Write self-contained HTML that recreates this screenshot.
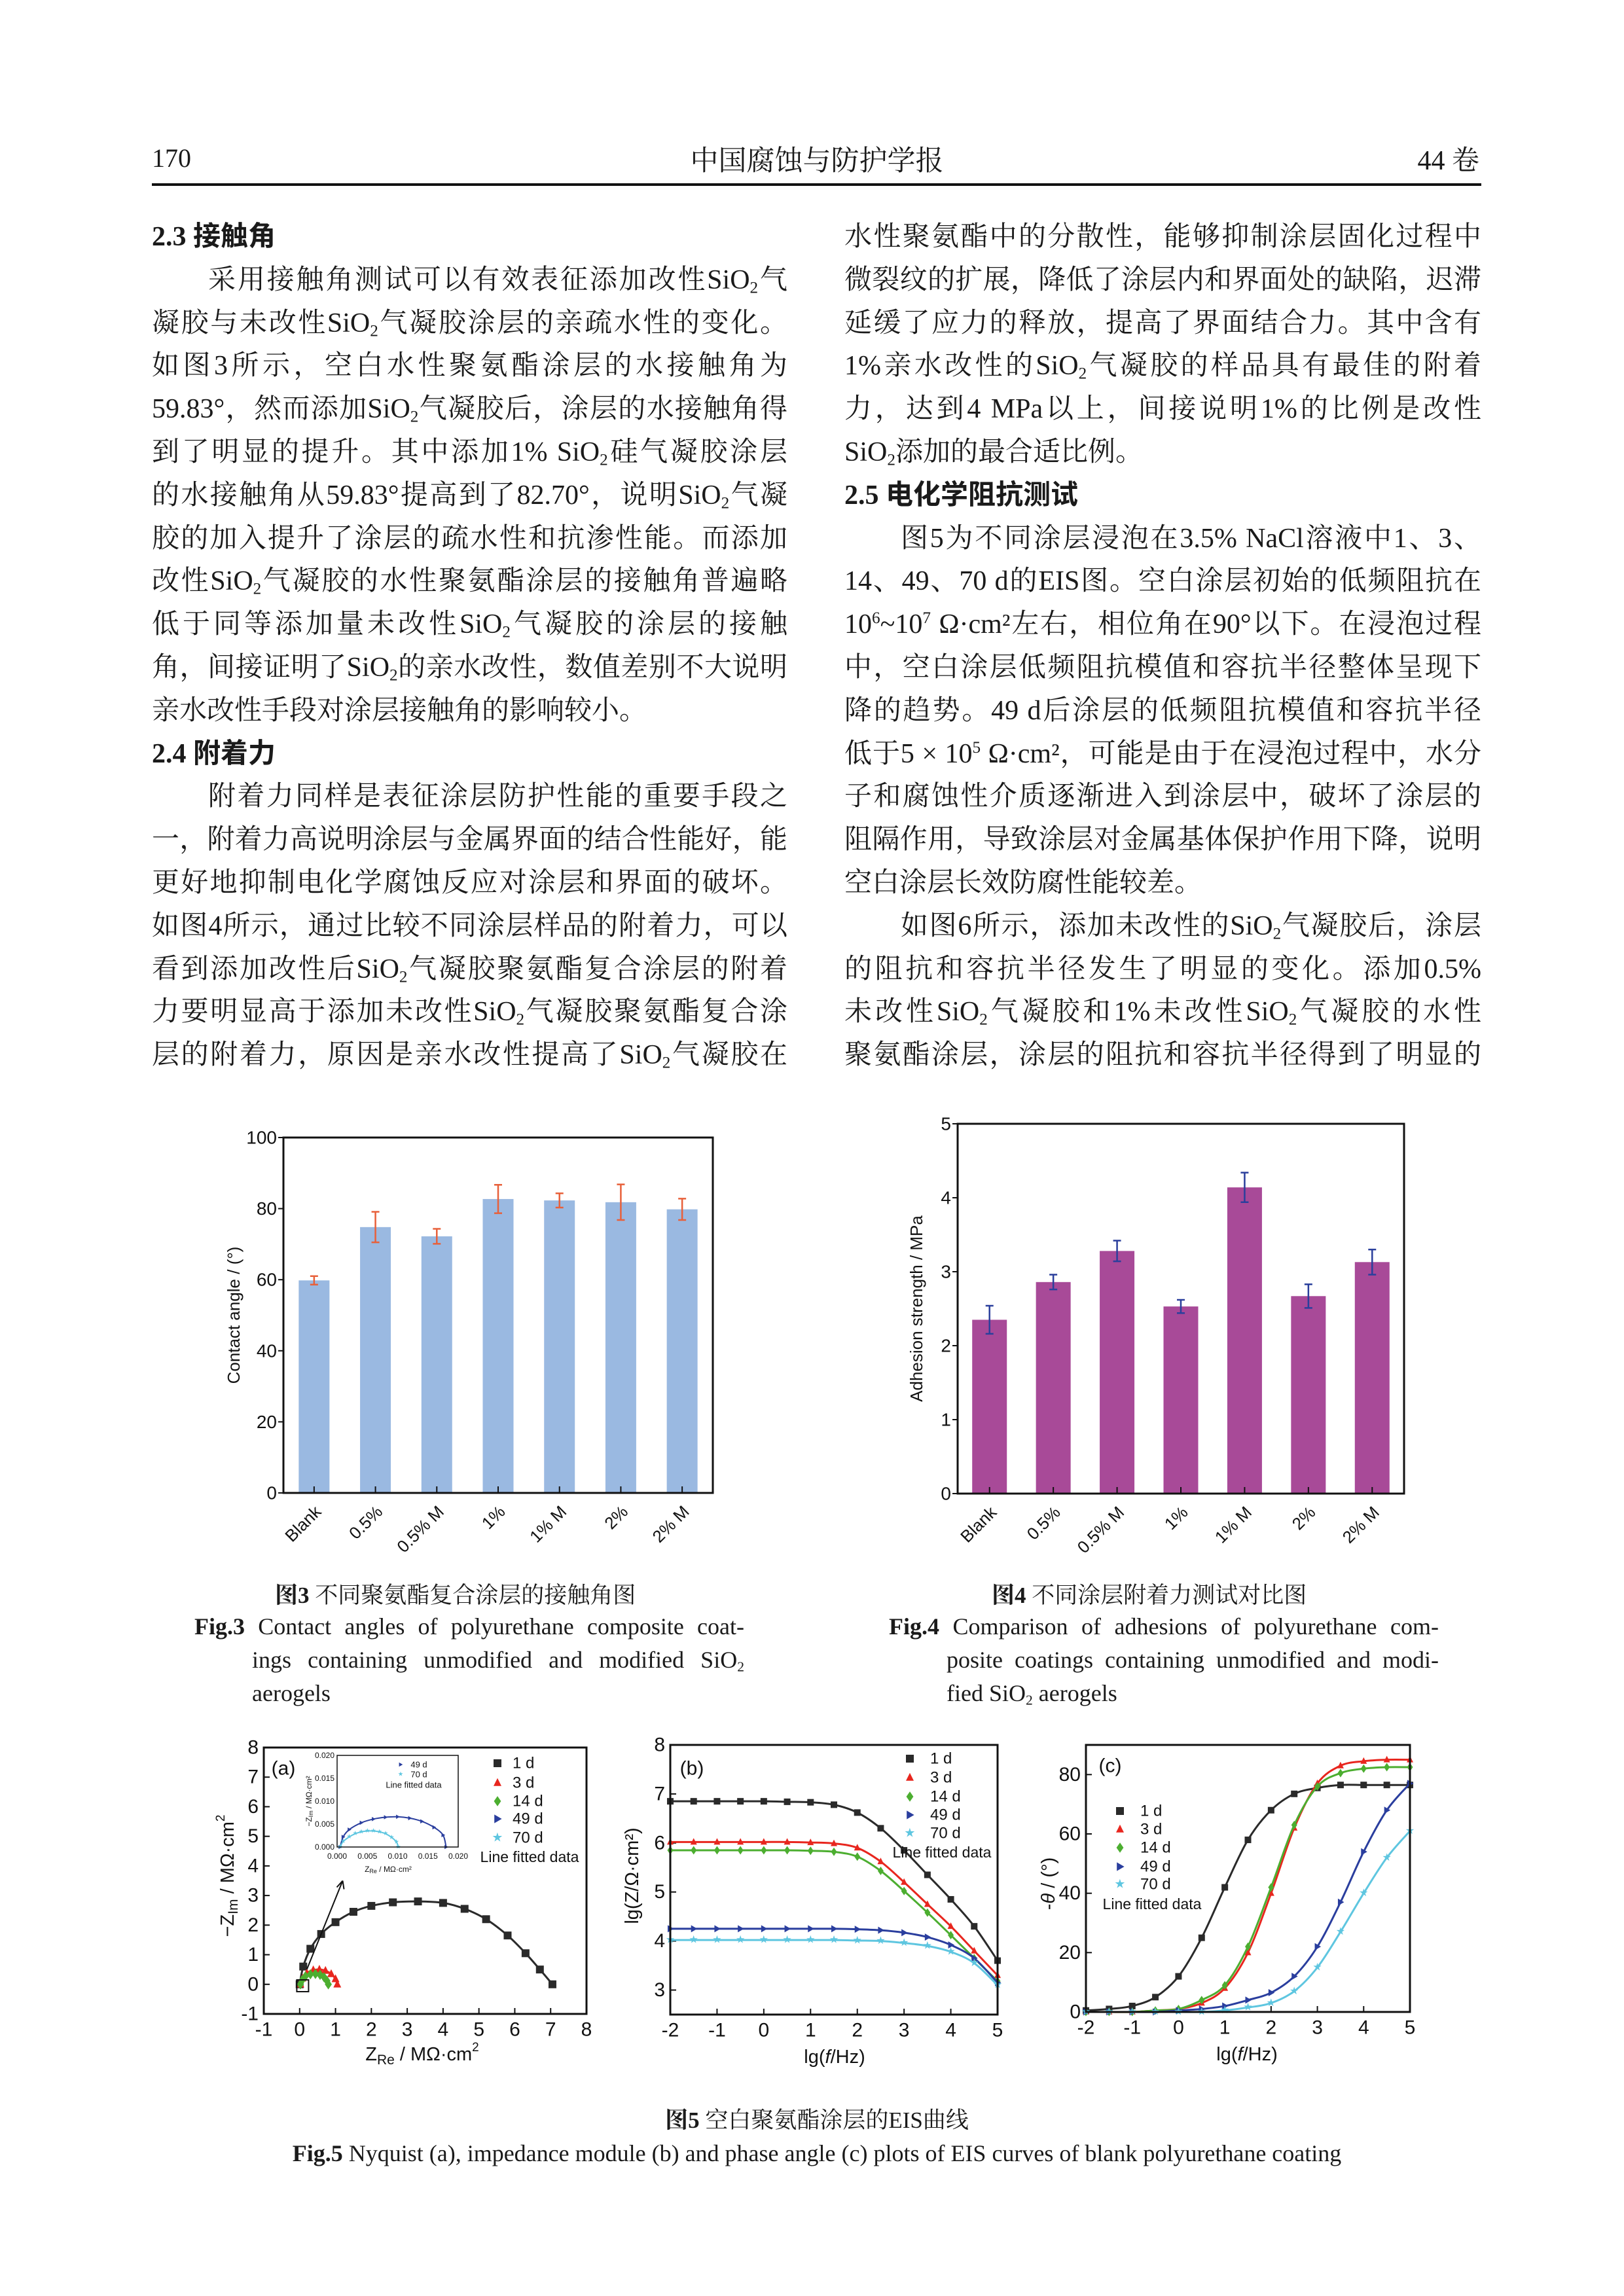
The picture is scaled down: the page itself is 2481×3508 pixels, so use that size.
<!DOCTYPE html>
<html><head><meta charset="utf-8">
<style>
html,body{margin:0;padding:0;background:#fff;}
#page{position:relative;width:2481px;height:3508px;overflow:hidden;background:#fff;font-family:"Liberation Serif","Noto Serif CJK SC",serif;color:#1a1a1a;}
.ln{position:absolute;height:66px;line-height:66px;font-size:42px;white-space:nowrap;text-align:justify;text-align-last:justify;}
.ln.s{text-align-last:left;}
.h{font-weight:bold;font-family:"Liberation Serif","Noto Sans CJK SC",sans-serif;}
sub{font-size:60%;vertical-align:-0.25em;line-height:0;}
sup{font-size:60%;vertical-align:0.6em;line-height:0;}
.cap{position:absolute;font-size:36px;line-height:51px;white-space:nowrap;}
svg text{font-family:"Liberation Sans",sans-serif;}
</style></head>
<body>
<div id="page">
<div style="position:absolute;left:232px;top:218px;font-size:40px;">170</div>
<div style="position:absolute;left:0;width:2496px;top:212px;font-size:43px;text-align:center;">中国腐蚀与防护学报</div>
<div style="position:absolute;right:221px;top:212px;font-size:42px;">44 卷</div>
<div style="position:absolute;left:232px;width:2031px;top:280px;height:4px;background:#111;"></div>

<div id="left-col"></div>
<div id="right-col"></div>

<div class="cap" style="left:420px;top:2412px;font-size:35px;"><b>图3</b> 不同聚氨酯复合涂层的接触角图</div>
<div class="cap" style="left:297px;top:2460px;width:840px;text-align:justify;text-align-last:justify;"><b>Fig.3</b> Contact angles of polyurethane composite coat-</div>
<div class="cap" style="left:385px;top:2511px;width:752px;text-align:justify;text-align-last:justify;">ings containing unmodified and modified SiO<sub>2</sub></div>
<div class="cap" style="left:385px;top:2562px;">aerogels</div>

<div class="cap" style="left:1515px;top:2412px;font-size:35px;"><b>图4</b> 不同涂层附着力测试对比图</div>
<div class="cap" style="left:1358px;top:2460px;width:840px;text-align:justify;text-align-last:justify;"><b>Fig.4</b> Comparison of adhesions of polyurethane com-</div>
<div class="cap" style="left:1446px;top:2511px;width:752px;text-align:justify;text-align-last:justify;">posite coatings containing unmodified and modi-</div>
<div class="cap" style="left:1446px;top:2562px;">fied SiO<sub>2</sub> aerogels</div>

<div class="cap" style="left:0;width:2496px;text-align:center;top:3214px;font-size:35px;"><b>图5</b> 空白聚氨酯涂层的EIS曲线</div>
<div class="cap" style="left:0;width:2496px;text-align:center;top:3265px;"><b>Fig.5</b> Nyquist (a), impedance module (b) and phase angle (c) plots of EIS curves of blank polyurethane coating</div>

<svg id="charts" width="2481" height="3508" style="position:absolute;left:0;top:0;" xmlns="http://www.w3.org/2000/svg"></svg>
</div>

<script>
// ---------- body text ----------
const leftLines = [
 ['h','2.3 接触角'],
 ['i','采用接触角测试可以有效表征添加改性SiO<sub>2</sub>气'],
 ['','凝胶与未改性SiO<sub>2</sub>气凝胶涂层的亲疏水性的变化。'],
 ['','如图3所示，空白水性聚氨酯涂层的水接触角为'],
 ['','59.83°，然而添加SiO<sub>2</sub>气凝胶后，涂层的水接触角得'],
 ['','到了明显的提升。其中添加1% SiO<sub>2</sub>硅气凝胶涂层'],
 ['','的水接触角从59.83°提高到了82.70°，说明SiO<sub>2</sub>气凝'],
 ['','胶的加入提升了涂层的疏水性和抗渗性能。而添加'],
 ['','改性SiO<sub>2</sub>气凝胶的水性聚氨酯涂层的接触角普遍略'],
 ['','低于同等添加量未改性SiO<sub>2</sub>气凝胶的涂层的接触'],
 ['','角，间接证明了SiO<sub>2</sub>的亲水改性，数值差别不大说明'],
 ['s','亲水改性手段对涂层接触角的影响较小。'],
 ['h','2.4 附着力'],
 ['i','附着力同样是表征涂层防护性能的重要手段之'],
 ['','一，附着力高说明涂层与金属界面的结合性能好，能'],
 ['','更好地抑制电化学腐蚀反应对涂层和界面的破坏。'],
 ['','如图4所示，通过比较不同涂层样品的附着力，可以'],
 ['','看到添加改性后SiO<sub>2</sub>气凝胶聚氨酯复合涂层的附着'],
 ['','力要明显高于添加未改性SiO<sub>2</sub>气凝胶聚氨酯复合涂'],
 ['','层的附着力，原因是亲水改性提高了SiO<sub>2</sub>气凝胶在']
];
const rightLines = [
 ['','水性聚氨酯中的分散性，能够抑制涂层固化过程中'],
 ['','微裂纹的扩展，降低了涂层内和界面处的缺陷，迟滞'],
 ['','延缓了应力的释放，提高了界面结合力。其中含有'],
 ['','1%亲水改性的SiO<sub>2</sub>气凝胶的样品具有最佳的附着'],
 ['','力，达到4 MPa以上，间接说明1%的比例是改性'],
 ['s','SiO<sub>2</sub>添加的最合适比例。'],
 ['h','2.5 电化学阻抗测试'],
 ['i','图5为不同涂层浸泡在3.5% NaCl溶液中1、3、'],
 ['','14、49、70 d的EIS图。空白涂层初始的低频阻抗在'],
 ['','10<sup>6</sup>~10<sup>7</sup> Ω·cm²左右，相位角在90°以下。在浸泡过程'],
 ['','中，空白涂层低频阻抗模值和容抗半径整体呈现下'],
 ['','降的趋势。49 d后涂层的低频阻抗模值和容抗半径'],
 ['','低于5 × 10<sup>5</sup> Ω·cm²，可能是由于在浸泡过程中，水分'],
 ['','子和腐蚀性介质逐渐进入到涂层中，破坏了涂层的'],
 ['','阻隔作用，导致涂层对金属基体保护作用下降，说明'],
 ['s','空白涂层长效防腐性能较差。'],
 ['i','如图6所示，添加未改性的SiO<sub>2</sub>气凝胶后，涂层'],
 ['','的阻抗和容抗半径发生了明显的变化。添加0.5%'],
 ['','未改性SiO<sub>2</sub>气凝胶和1%未改性SiO<sub>2</sub>气凝胶的水性'],
 ['','聚氨酯涂层，涂层的阻抗和容抗半径得到了明显的']
];
function fillCol(id, lines, x0, w){
  const col = document.getElementById(id);
  lines.forEach((l,i)=>{
    const d = document.createElement('div');
    
    
    let cls='ln', left=x0, width=w;
    if(l[0]==='h'){cls+=' s h';}
    if(l[0]==='s'){cls+=' s';}
    if(l[0]==='i'){left=x0+86;width=w-86;}
    d.className=cls;
    d.style.left=left+'px'; d.style.width=width+'px';
    d.style.top=(362+i*65.8-33)+'px';
    d.innerHTML=l[1];
    col.appendChild(d);
  });
}
fillCol('left-col', leftLines, 232, 971);
fillCol('right-col', rightLines, 1290, 973);

// ---------- chart data ----------
const barCats = ['Blank','0.5%','0.5% M','1%','1% M','2%','2% M'];
const contactVals = [59.8, 74.8, 72.2, 82.7, 82.3, 81.8, 79.8];
const contactErr = [1.2, 4.3, 2.1, 4.0, 2.0, 5.0, 3.0];
const contactTicks = [0,20,40,60,80,100];
const adhVals = [2.35, 2.86, 3.28, 2.53, 4.14, 2.67, 3.13];
const adhErr = [0.19, 0.10, 0.14, 0.09, 0.20, 0.16, 0.17];
const adhTicks = [0,1,2,3,4,5];

const eisSeries = ['1 d','3 d','14 d','49 d','70 d'];
const lgF = [-2,-1.5,-1,-0.5,0,0.5,1,1.5,2,2.5,3,3.5,4,4.5,5];
const lgZ1 = [6.85,6.85,6.85,6.85,6.85,6.84,6.83,6.78,6.62,6.3,5.85,5.35,4.85,4.3,3.6];
const lgZ3 = [6.02,6.02,6.02,6.02,6.02,6.02,6.01,5.99,5.9,5.62,5.2,4.75,4.3,3.8,3.3];
const lgZ14 = [5.85,5.85,5.85,5.85,5.85,5.85,5.84,5.82,5.72,5.43,5.02,4.58,4.12,3.65,3.18];
const lgZ49 = [4.25,4.25,4.25,4.25,4.25,4.25,4.25,4.25,4.24,4.22,4.17,4.08,3.92,3.65,3.15];
const lgZ70 = [4.02,4.02,4.02,4.02,4.02,4.02,4.02,4.02,4.01,4.0,3.96,3.9,3.78,3.55,3.1];
const ph1 = [0.5,1,2,5,12,25,42,58,68,73.5,75.5,76.5,76.5,76.5,76.5];
const ph3 = [0,0,0,0.5,1,3,8,20,40,62,77,83,84.5,85,85];
const ph14 = [0,0,0,0.5,1,4,9,22,42,63,76,80.5,82,82.5,82.5];
const ph49 = [0,0,0,0,0.5,1,2,4,6.5,12,22,37,54,68,77];
const ph70 = [0,0,0,0,0,0,0.5,1.5,3,7,15,27,40,52,61];
const nyRe1 = [0,0.1,0.3,0.6,1.0,1.5,2.0,2.6,3.3,4.0,4.6,5.2,5.8,6.3,6.7,7.05];
const nyIm1 = [0,0.6,1.2,1.7,2.1,2.45,2.65,2.77,2.8,2.75,2.55,2.2,1.65,1.05,0.5,0];
const nyRe3 = [0.02,0.08,0.2,0.38,0.55,0.72,0.88,1.0,1.05];
const nyIm3 = [0,0.2,0.38,0.48,0.5,0.46,0.35,0.18,0];
const nyRe14 = [0.02,0.07,0.16,0.3,0.44,0.57,0.68,0.76,0.8];
const nyIm14 = [0,0.14,0.27,0.34,0.35,0.32,0.24,0.12,0];
const inRe49 = [0.0005,0.001,0.002,0.004,0.006,0.008,0.01,0.012,0.014,0.016,0.0175,0.018];
const inIm49 = [0,0.0022,0.0038,0.0053,0.0061,0.0065,0.0066,0.0063,0.0056,0.0043,0.0026,0];
const inRe70 = [0.0005,0.001,0.002,0.003,0.004,0.005,0.006,0.007,0.008,0.009,0.0098,0.0101];
const inIm70 = [0,0.0012,0.0022,0.0029,0.0033,0.0035,0.0035,0.0033,0.0029,0.0021,0.0011,0];
const colors = ['#2a2a2a','#e8261e','#4cae30','#2a3e9e','#5ec6e0'];
const shapes = ['square','tri','diamond','rtri','star'];

// ---------- helpers ----------
const NS='http://www.w3.org/2000/svg';
const svg=document.getElementById('charts');
function add(tag, attrs, parent){
  const e=document.createElementNS(NS,tag);
  for(const k in attrs) e.setAttribute(k, attrs[k]);
  (parent||svg).appendChild(e); return e;
}
function txt(x,y,s,size,anchor,parent,extra){
  const e=add('text',Object.assign({x:x,y:y,'font-size':size,'text-anchor':anchor||'middle','dominant-baseline':'central',fill:'#111'},extra||{}),parent);
  e.innerHTML=s; return e;
}
function smooth(pts){
  let d='M'+pts[0][0]+','+pts[0][1];
  for(let i=0;i<pts.length-1;i++){
    const p0=pts[i-1]||pts[i],p1=pts[i],p2=pts[i+1],p3=pts[i+2]||p2;
    const c1=[p1[0]+(p2[0]-p0[0])/6,p1[1]+(p2[1]-p0[1])/6];
    const c2=[p2[0]-(p3[0]-p1[0])/6,p2[1]-(p3[1]-p1[1])/6];
    d+=' C'+c1[0]+','+c1[1]+' '+c2[0]+','+c2[1]+' '+p2[0]+','+p2[1];
  }
  return d;
}
function marker(g,shape,x,y,r,c){
  let e;
  if(shape==='square') e=add('rect',{x:x-r,y:y-r,width:2*r,height:2*r,fill:c},g);
  else if(shape==='tri') e=add('polygon',{points:`${x},${y-r*1.2} ${x-r},${y+r*0.8} ${x+r},${y+r*0.8}`,fill:c},g);
  else if(shape==='diamond') e=add('polygon',{points:`${x},${y-r*1.3} ${x+r*0.9},${y} ${x},${y+r*1.3} ${x-r*0.9},${y}`,fill:c},g);
  else if(shape==='rtri') e=add('polygon',{points:`${x-r*0.8},${y-r*1.1} ${x+r*1.1},${y} ${x-r*0.8},${y+r*1.1}`,fill:c},g);
  else e=add('text',{x:x,y:y,'font-size':r*3.2,'text-anchor':'middle','dominant-baseline':'central',fill:c},g);
  if(shape==='star') e.textContent='★';
  return e;
}

// ---------- bar charts ----------
function barChart(cfg){
  const g=add('g',{});
  
  
  const {L,R,T,B,max}=cfg;
  const band=(R-L)/cfg.cats.length;
  const xc=i=>L+(i+0.5)*band;
  const y=v=>B-(v/max)*(B-T);
  cfg.vals.forEach((v,i)=>{
    const r=add('rect',{x:xc(i)-cfg.bw/2,y:y(v),width:cfg.bw,height:B-y(v),fill:cfg.fill},g);
    
    
    const e=cfg.err[i];
    const eb=add('path',{d:`M${xc(i)},${y(v+e)} V${y(v-e)} M${xc(i)-6},${y(v+e)} H${xc(i)+6} M${xc(i)-6},${y(v-e)} H${xc(i)+6}`,stroke:cfg.ec,'stroke-width':2.5,fill:'none'},g);
    
    
    add('line',{x1:xc(i),x2:xc(i),y1:B,y2:B-10,stroke:'#111','stroke-width':2},g);
    const t=txt(xc(i)+6,B+24,cfg.cats[i],26,'end',g,{transform:`rotate(-45 ${xc(i)+6} ${B+24})`});
    
    
  });
  cfg.ticks.forEach(tv=>{
    add('line',{x1:L-8,x2:L,y1:y(tv),y2:y(tv),stroke:'#111','stroke-width':2},g);
    const t=txt(L-10,y(tv),String(tv),28,'end',g);
    
    
  });
  const box=add('rect',{x:L,y:T,width:R-L,height:B-T,fill:'none',stroke:'#111','stroke-width':3},g);
  
  
  const yl=txt(cfg.ylx,(T+B)/2,cfg.ylabel,26,'middle',g,{transform:`rotate(-90 ${cfg.ylx} ${(T+B)/2})`});
  
  
}
barChart({name:'contact-angle-chart',cats:barCats,vals:contactVals,err:contactErr,ticks:contactTicks,L:433,R:1089,T:1738,B:2281,max:100,bw:47,fill:'#9ab9e1',ec:'#e8603a',ylx:357,ylabel:'Contact angle / (°)'});
barChart({name:'adhesion-chart',cats:barCats,vals:adhVals,err:adhErr,ticks:adhTicks,L:1463,R:2145,T:1717,B:2282,max:5,bw:53,fill:'#a84a98',ec:'#2a3f9c',ylx:1400,ylabel:'Adhesion strength / MPa'});

// ---------- EIS panels ----------
function panel(p){
  const g=add('g',{});
  
  
  const X=v=>p.L+(v-p.x0)/(p.x1-p.x0)*(p.R-p.L);
  const Y=v=>p.B-(v-p.y0)/(p.y1-p.y0)*(p.B-p.T);
  p.xt.forEach(v=>{
    add('line',{x1:X(v),x2:X(v),y1:p.B,y2:p.B-9,stroke:'#111','stroke-width':2},g);
    const t=txt(X(v),p.B+24,String(v),p.fs||30,'middle',g);
    
    
  });
  p.yt.forEach(v=>{
    add('line',{x1:p.L,x2:p.L+9,y1:Y(v),y2:Y(v),stroke:'#111','stroke-width':2},g);
    const t=txt(p.L-8,Y(v),String(v),p.fs||30,'end',g);
    
    
  });
  p.series.forEach((s,k)=>{
    const pts=s.x.map((xv,i)=>[X(xv),Y(s.y[i])]);
    const ln=add('path',{d:smooth(pts),stroke:s.c,'stroke-width':p.lw||3,fill:'none'},g);
    
    
    pts.forEach(pt=>{
      const m=marker(g,s.sh,pt[0],pt[1],p.mr||6,s.c);
      
      
    });
  });
  const box=add('rect',{x:p.L,y:p.T,width:p.R-p.L,height:p.B-p.T,fill:'none',stroke:'#111','stroke-width':p.bw||3},g);
  
  
  if(p.lab){const t=txt(p.lab[0],p.lab[1],p.lab[2],30,'middle',g);
    
    }
  if(p.legend){
    p.legend.ys.forEach((yy,k)=>{
      marker(g,shapes[k],p.legend.mx,yy,6,colors[k]);
      const t=txt(p.legend.lx,yy,eisSeries[k],24,'start',g);
      
      
    });
    const t=txt(p.legend.fx,p.legend.fy,'Line fitted data',23,'middle',g);
    
    
  }
  return {X,Y,g};
}
function mkSeries(xs, ys){return ys.map((y,k)=>({n:eisSeries[k],x:Array.isArray(xs[0])?xs[k]:xs,y:y,c:colors[k],sh:shapes[k]}));}

// Panel a (Nyquist)
const pa=panel({name:'nyquist-panel',L:403,R:896,T:2670,B:3077,x0:-1,x1:8,y0:-1,y1:8,
  xt:[-1,0,1,2,3,4,5,6,7,8],yt:[-1,0,1,2,3,4,5,6,7,8],
  series:[{n:'1 d',x:nyRe1,y:nyIm1,c:colors[0],sh:'square'},{n:'3 d',x:nyRe3,y:nyIm3,c:colors[1],sh:'tri'},{n:'14 d',x:nyRe14,y:nyIm14,c:colors[2],sh:'diamond'}],
  lab:[433,2702,'(a)'],
  legend:{mx:760,lx:783,ys:[2694,2724,2752,2779,2808],fx:809,fy:2837}});
// small box & arrow
const sq=add('rect',{x:pa.X(-0.08),y:pa.Y(0.15),width:18,height:18,fill:'none',stroke:'#111','stroke-width':2});


const ar=add('path',{d:`M${pa.X(0.2)},${pa.Y(0.5)} L${pa.X(1.2)},${pa.Y(3.5)} M${pa.X(1.2)},${pa.Y(3.5)} l-9,10 M${pa.X(1.2)},${pa.Y(3.5)} l2,13`,stroke:'#111','stroke-width':2,fill:'none'});


// inset
const inset=panel({name:'nyquist-inset',L:515,R:700,T:2682,B:2822,x0:0,x1:0.02,y0:0,y1:0.02,
  xt:[],yt:[],lw:2,mr:3,bw:1.5,
  series:[{n:'49 d',x:inRe49,y:inIm49,c:colors[3],sh:'rtri'},{n:'70 d',x:inRe70,y:inIm70,c:colors[4],sh:'star'}]});
['0.000','0.005','0.010','0.015','0.020'].forEach((s,i)=>{
  const v=i*0.005;
  const a=txt(inset.X(v),2836,s,12,'middle');
  
  
  const b=txt(511,inset.Y(v),s,12,'end');
  
  
});
{const t=txt(593,2856,'Z<tspan font-size="9" dy="3">Re</tspan><tspan dy="-3"> / MΩ·cm²</tspan>',12,'middle');
  
 const u=txt(472,2752,'−Z<tspan font-size="9" dy="3">Im</tspan><tspan dy="-3"> / MΩ·cm²</tspan>',12,'middle',null,{transform:'rotate(-90 472 2752)'});
  
 marker(svg,'rtri',612,2696,3,colors[3]); txt(640,2696,'49 d',13,'middle');
 marker(svg,'star',612,2711,3,colors[4]); txt(640,2711,'70 d',13,'middle');
 const w=txt(632,2727,'Line fitted data',13,'middle');  }
{const t=txt(645,3139,'Z<tspan font-size="21" dy="8">Re</tspan><tspan dy="-8"> / MΩ·cm</tspan><tspan font-size="19" dy="-11">2</tspan>',29,'middle');
  
 const u=txt(348,2866,'−Z<tspan font-size="21" dy="8">Im</tspan><tspan dy="-8"> / MΩ·cm</tspan><tspan font-size="19" dy="-11">2</tspan>',29,'middle',null,{transform:'rotate(-90 348 2866)'});
  }

// Panel b (|Z|)
panel({name:'impedance-panel',L:1024,R:1524,T:2666,B:3078,x0:-2,x1:5,y0:2.5,y1:8,
  xt:[-2,-1,0,1,2,3,4,5],yt:[3,4,5,6,7,8],mr:5,
  series:mkSeries(lgF,[lgZ1,lgZ3,lgZ14,lgZ49,lgZ70]),
  lab:[1057,2702,'(b)'],
  legend:{mx:1390,lx:1421,ys:[2687,2716,2745,2773,2801],fx:1439,fy:2830}});
{const t=txt(1275,3143,'lg(<tspan font-style="italic">f</tspan>/Hz)',29,'middle');
  
 const u=txt(966,2866,'lg(Z/Ω·cm²)',29,'middle',null,{transform:'rotate(-90 966 2866)'});
  }

// Panel c (phase)
panel({name:'phase-panel',L:1659,R:2154,T:2666,B:3074,x0:-2,x1:5,y0:0,y1:90,
  xt:[-2,-1,0,1,2,3,4,5],yt:[0,20,40,60,80],mr:5,
  series:mkSeries(lgF,[ph1,ph3,ph14,ph49,ph70]),
  lab:[1696,2698,'(c)'],
  legend:{mx:1711,lx:1742,ys:[2767,2795,2823,2852,2879],fx:1760,fy:2909}});
{const t=txt(1905,3139,'lg(<tspan font-style="italic">f</tspan>/Hz)',29,'middle');
  
 const u=txt(1602,2878,'-<tspan font-style="italic">θ</tspan> / (°)',29,'middle',null,{transform:'rotate(-90 1602 2878)'});
  }
</script>
</body></html>
